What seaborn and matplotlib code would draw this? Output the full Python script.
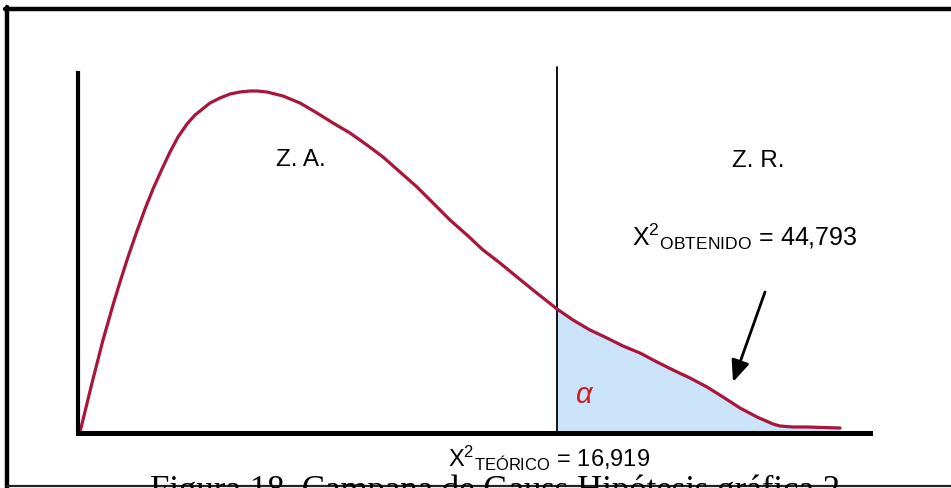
import numpy as np
import pandas as pd
import matplotlib
matplotlib.use("Agg")
import matplotlib.pyplot as plt
from matplotlib.lines import Line2D
import seaborn as sns

# ---- data (x in horizontal units, y = height above baseline) ----
curve_x = [80, 92, 103, 113, 120, 128, 137, 145, 153, 162, 170, 178, 187, 195, 210,
           220, 230, 240, 250, 257, 267, 283, 300, 317, 333, 350, 367, 383, 400, 417,
           433, 450, 467, 483, 500, 517, 533, 557, 573, 590, 607, 623, 640, 657, 673,
           690, 707, 723, 740, 757, 773, 780, 793, 807, 840]
curve_y = [1, 50, 93, 128, 151, 176, 202, 224, 244, 264, 281, 296, 309, 318, 330,
           335, 339, 341, 342, 342, 341, 337, 330, 320, 310, 300, 288, 276, 261, 246,
           230, 213, 198, 183, 170, 156, 143, 124, 113, 103, 95, 87, 80, 71, 63,
           55, 46, 36, 25, 16, 9, 7, 6, 6, 5]
critical_x = 557
zone_labels = ["Z. A.", "Z. R."]
obtenido_label = r"X$^{2}{}_{\mathrm{OBTENIDO}}$ = 44,793"
teorico_label = r"X$^{2}{}_{\mathrm{TEÓRICO}}$ = 16,919"
caption = "Figura 18. Campana de Gauss Hipótesis gráfica 2"

df = pd.DataFrame({"x": curve_x, "y": curve_y})

sns.set_style("white")
plt.rcParams["font.family"] = ["Liberation Sans", "DejaVu Sans"]
plt.rcParams["text.color"] = "black"
plt.rcParams["mathtext.fontset"] = "custom"
plt.rcParams["mathtext.rm"] = "Liberation Sans"
plt.rcParams["mathtext.it"] = "Liberation Sans:italic"
plt.rcParams["mathtext.bf"] = "Liberation Sans:bold"

W, H = 951, 488
fig = plt.figure(figsize=(W / 100, H / 100), dpi=100)
fig.patch.set_facecolor("white")

# axes occupying px x 78..870, y 67..433
ax = fig.add_axes([78 / W, (H - 433) / H, (870 - 78) / W, (433 - 67) / H])
ax.set_xlim(78, 870)
ax.set_ylim(0, 366)

curve_color = "#a8163c"
# shaded rejection region
mask = df["x"] >= critical_x
ax.fill_between(df.loc[mask, "x"], 0, df.loc[mask, "y"], color="#cbe3f8", zorder=1, lw=0)
sns.lineplot(data=df, x="x", y="y", ax=ax, color=curve_color, lw=2.3, zorder=3,
             solid_joinstyle="round", solid_capstyle="round")

# critical value line
ax.plot([critical_x, critical_x], [0, 366], color="black", lw=1.3, zorder=2, clip_on=False)

for sp in ["top", "right"]:
    ax.spines[sp].set_visible(False)
ax.spines["left"].set_linewidth(3.0)
ax.spines["bottom"].set_linewidth(3.6)
ax.spines["left"].set_bounds(0, 360)
ax.spines["left"].set_color("black")
ax.spines["bottom"].set_color("black")
ax.spines["left"].set_zorder(5)
ax.spines["bottom"].set_zorder(5)
ax.set_xticks([])
ax.set_yticks([])
ax.set_xlabel("")
ax.set_ylabel("")
ax.patch.set_alpha(0)

# labels
ax.text(301, 273, zone_labels[0], fontsize=17.5, ha="center", va="center")
ax.text(758, 272, zone_labels[1], fontsize=17.5, ha="center", va="center")
ax.text(632, 196, obtenido_label, fontsize=18, ha="left", va="center")
ax.text(448, -25, teorico_label, fontsize=17, ha="left", va="center", clip_on=False)
ax.text(585, 38, r"$\alpha$", fontsize=21, color="#d01c1c", ha="center", va="center",
        family="DejaVu Serif", style="italic")

# arrow
ax.annotate("", xy=(733, 51), xytext=(765, 141),
            arrowprops=dict(arrowstyle="-|>,head_length=1.3,head_width=0.55",
                            color="black", lw=2.0, shrinkA=0, shrinkB=0))

# frame lines
fig.add_artist(Line2D([5 / W, 1], [1 - 9 / H, 1 - 9 / H], transform=fig.transFigure,
                      color="black", lw=3.2))
fig.add_artist(Line2D([7 / W, 7 / W], [1 - 7 / H, 0], transform=fig.transFigure,
                      color="black", lw=3.2))

# caption (cut at bottom, as in the reference)
cap = fig.text(150 / W, 1 - 474 / H, caption, family="Liberation Serif",
               fontsize=20, ha="left", va="top")
fig.canvas.draw()
bb = cap.get_window_extent()
target = 690
cap.set_fontsize(20 * target / bb.width)

fig.add_artist(Line2D([7 / W, 1], [1 - 486 / H, 1 - 486 / H], transform=fig.transFigure,
                      color="#222222", lw=1.6))

fig.savefig("out.png", dpi=100, facecolor="white")
